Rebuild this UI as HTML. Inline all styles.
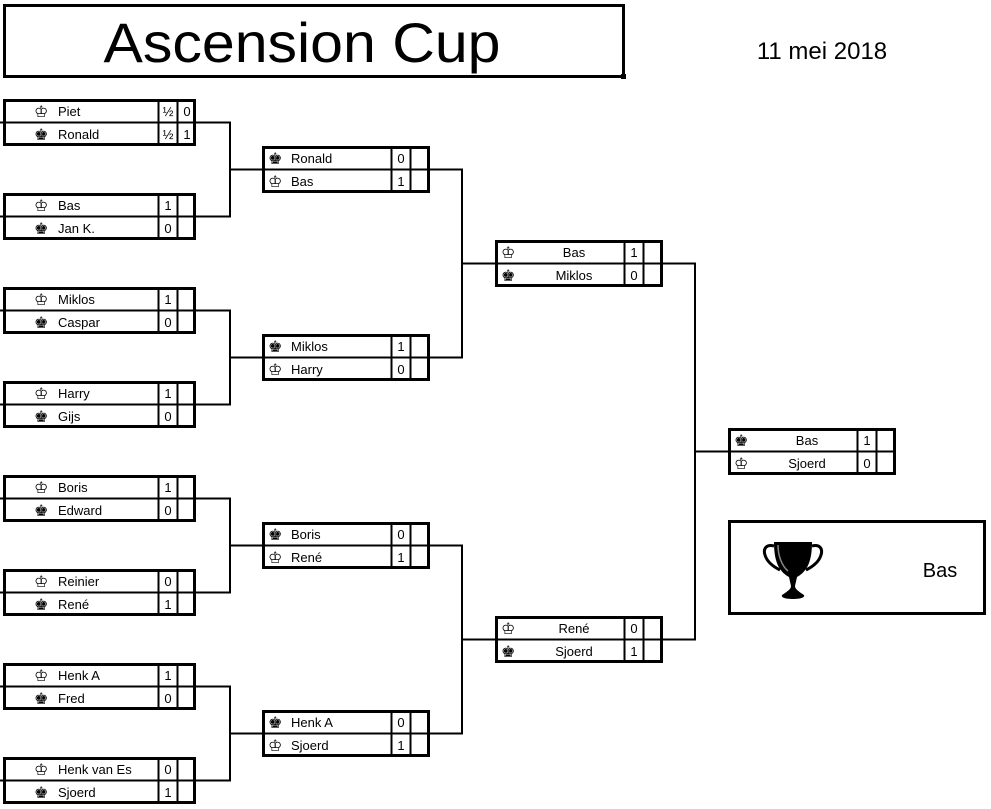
<!DOCTYPE html>
<html><head><meta charset="utf-8"><style>
html,body{margin:0;padding:0;background:#fff;width:991px;height:809px;overflow:hidden}
svg{display:block}
text{font-family:"Liberation Sans","DejaVu Sans",sans-serif;font-size:13px;fill:#000}
.k{font-family:"DejaVu Sans",sans-serif;font-size:16px}
.c{text-anchor:middle}
</style></head><body>
<svg width="991" height="809" viewBox="0 0 991 809" xmlns="http://www.w3.org/2000/svg">
<defs>
<g id="b1" fill="none" stroke="#000">
<rect x="4.5" y="1.5" width="190" height="44" stroke-width="3"/>
<line x1="3" y1="23.5" x2="196" y2="23.5" stroke-width="2"/>
<line x1="158.5" y1="0" x2="158.5" y2="46" stroke-width="2"/>
<line x1="177.5" y1="0" x2="177.5" y2="46" stroke-width="2"/>
</g>
<g id="b2" fill="none" stroke="#000">
<rect x="1.5" y="1.5" width="165" height="44" stroke-width="3"/>
<line x1="0" y1="23.5" x2="168" y2="23.5" stroke-width="2"/>
<line x1="129.5" y1="0" x2="129.5" y2="46" stroke-width="2"/>
<line x1="148.5" y1="0" x2="148.5" y2="46" stroke-width="2"/>
</g>
</defs>

<!-- title -->
<rect x="4.5" y="5.5" width="619" height="71" fill="none" stroke="#000" stroke-width="3"/>
<rect x="621" y="74" width="5" height="5" fill="#000"/>
<text x="302" y="62" style="font-size:56px" class="c" textLength="397" lengthAdjust="spacingAndGlyphs">Ascension Cup</text>
<text x="822" y="59" style="font-size:24px" class="c">11 mei 2018</text>

<!-- connectors -->
<g stroke="#000" stroke-width="2" fill="none">
<path d="M0 122.5H3M0 216.5H3M0 310.5H3M0 404.5H3M0 498.5H3M0 592.5H3M0 686.5H3M0 780.5H3"/>
<path d="M196 122.5H230V216.5H196M230 169.5H262"/>
<path d="M196 310.5H230V404.5H196M230 357.5H262"/>
<path d="M196 498.5H230V592.5H196M230 545.5H262"/>
<path d="M196 686.5H230V780.5H196M230 733.5H262"/>
<path d="M430 169.5H462V357.5H430M462 263.5H495"/>
<path d="M430 545.5H462V733.5H430M462 639.5H495"/>
<path d="M663 263.5H695V639.5H663M695 451.5H728"/>
</g>

<!-- round 1 -->
<g transform="translate(0,99)"><use href="#b1"/>
<text class="k" x="34" y="18">♔</text><text x="58" y="17">Piet</text><text x="168" y="17" class="c">½</text><text x="187" y="17" class="c">0</text>
<text class="k" x="34" y="41">♚</text><text x="58" y="40">Ronald</text><text x="168" y="40" class="c">½</text><text x="187" y="40" class="c">1</text></g>
<g transform="translate(0,193)"><use href="#b1"/>
<text class="k" x="34" y="18">♔</text><text x="58" y="17">Bas</text><text x="168" y="17" class="c">1</text>
<text class="k" x="34" y="41">♚</text><text x="58" y="40">Jan K.</text><text x="168" y="40" class="c">0</text></g>
<g transform="translate(0,287)"><use href="#b1"/>
<text class="k" x="34" y="18">♔</text><text x="58" y="17">Miklos</text><text x="168" y="17" class="c">1</text>
<text class="k" x="34" y="41">♚</text><text x="58" y="40">Caspar</text><text x="168" y="40" class="c">0</text></g>
<g transform="translate(0,381)"><use href="#b1"/>
<text class="k" x="34" y="18">♔</text><text x="58" y="17">Harry</text><text x="168" y="17" class="c">1</text>
<text class="k" x="34" y="41">♚</text><text x="58" y="40">Gijs</text><text x="168" y="40" class="c">0</text></g>
<g transform="translate(0,475)"><use href="#b1"/>
<text class="k" x="34" y="18">♔</text><text x="58" y="17">Boris</text><text x="168" y="17" class="c">1</text>
<text class="k" x="34" y="41">♚</text><text x="58" y="40">Edward</text><text x="168" y="40" class="c">0</text></g>
<g transform="translate(0,569)"><use href="#b1"/>
<text class="k" x="34" y="18">♔</text><text x="58" y="17">Reinier</text><text x="168" y="17" class="c">0</text>
<text class="k" x="34" y="41">♚</text><text x="58" y="40">René</text><text x="168" y="40" class="c">1</text></g>
<g transform="translate(0,663)"><use href="#b1"/>
<text class="k" x="34" y="18">♔</text><text x="58" y="17">Henk A</text><text x="168" y="17" class="c">1</text>
<text class="k" x="34" y="41">♚</text><text x="58" y="40">Fred</text><text x="168" y="40" class="c">0</text></g>
<g transform="translate(0,757)"><use href="#b1"/>
<text class="k" x="34" y="18">♔</text><text x="58" y="17">Henk van Es</text><text x="168" y="17" class="c">0</text>
<text class="k" x="34" y="41">♚</text><text x="58" y="40">Sjoerd</text><text x="168" y="40" class="c">1</text></g>

<!-- round 2 -->
<g transform="translate(262,146)"><use href="#b2"/>
<text class="k" x="6" y="18">♚</text><text x="29" y="17">Ronald</text><text x="139" y="17" class="c">0</text>
<text class="k" x="6" y="41">♔</text><text x="29" y="40">Bas</text><text x="139" y="40" class="c">1</text></g>
<g transform="translate(262,334)"><use href="#b2"/>
<text class="k" x="6" y="18">♚</text><text x="29" y="17">Miklos</text><text x="139" y="17" class="c">1</text>
<text class="k" x="6" y="41">♔</text><text x="29" y="40">Harry</text><text x="139" y="40" class="c">0</text></g>
<g transform="translate(262,522)"><use href="#b2"/>
<text class="k" x="6" y="18">♚</text><text x="29" y="17">Boris</text><text x="139" y="17" class="c">0</text>
<text class="k" x="6" y="41">♔</text><text x="29" y="40">René</text><text x="139" y="40" class="c">1</text></g>
<g transform="translate(262,710)"><use href="#b2"/>
<text class="k" x="6" y="18">♚</text><text x="29" y="17">Henk A</text><text x="139" y="17" class="c">0</text>
<text class="k" x="6" y="41">♔</text><text x="29" y="40">Sjoerd</text><text x="139" y="40" class="c">1</text></g>

<!-- round 3 -->
<g transform="translate(495,240)"><use href="#b2"/>
<text class="k" x="6" y="18">♔</text><text x="79" y="17" class="c">Bas</text><text x="139" y="17" class="c">1</text>
<text class="k" x="6" y="41">♚</text><text x="79" y="40" class="c">Miklos</text><text x="139" y="40" class="c">0</text></g>
<g transform="translate(495,616)"><use href="#b2"/>
<text class="k" x="6" y="18">♔</text><text x="79" y="17" class="c">René</text><text x="139" y="17" class="c">0</text>
<text class="k" x="6" y="41">♚</text><text x="79" y="40" class="c">Sjoerd</text><text x="139" y="40" class="c">1</text></g>

<!-- final -->
<g transform="translate(728,428)"><use href="#b2"/>
<text class="k" x="6" y="18">♚</text><text x="79" y="17" class="c">Bas</text><text x="139" y="17" class="c">1</text>
<text class="k" x="6" y="41">♔</text><text x="79" y="40" class="c">Sjoerd</text><text x="139" y="40" class="c">0</text></g>

<!-- winner -->
<rect x="729.5" y="521.5" width="255" height="92" fill="none" stroke="#000" stroke-width="3"/>
<g transform="translate(764,540)">
<path d="M10 2H48C48 20 44 31 33 37L31 46C31 49 34 51 40 55C41 57 38 59 29 59C20 59 17 57 18 55C24 51 27 49 27 46L25 37C14 31 10 20 10 2Z" fill="#000"/>
<path d="M10 6C2 4 -1 9 1 15C3 22 10 27 16 30" fill="none" stroke="#000" stroke-width="3"/>
<path d="M48 6C56 4 59 9 57 15C55 22 48 27 42 30" fill="none" stroke="#000" stroke-width="3"/>
<path d="M14 5C14 16 18 26 24 31" fill="none" stroke="#888" stroke-width="1.5"/>
</g>
<text x="940" y="577" style="font-size:20px" class="c">Bas</text>
</svg>
</body></html>
